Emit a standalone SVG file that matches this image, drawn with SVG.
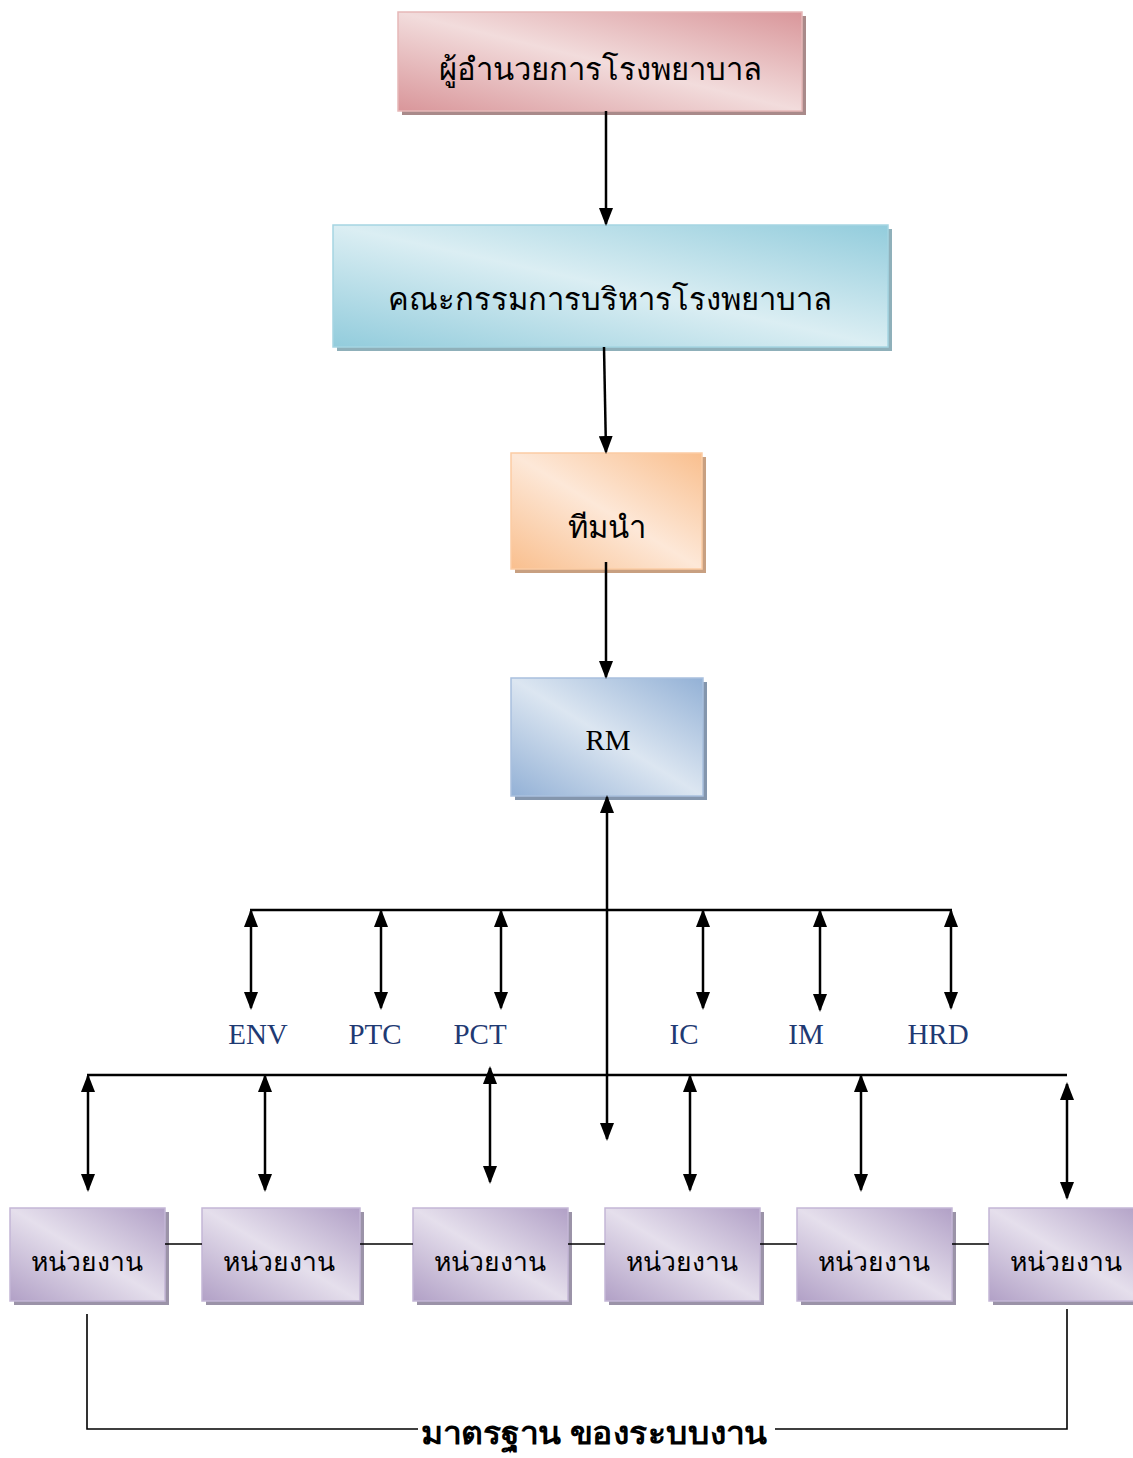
<svg xmlns="http://www.w3.org/2000/svg" width="1133" height="1458" viewBox="0 0 1133 1458">
  <style>
    .th { font-family: "Noto Sans", "DejaVu Sans", sans-serif; fill: #000; text-anchor: middle; }
    .lat { font-family: "Liberation Serif", serif; text-anchor: middle; }
    .abbr { font-family: "Liberation Serif", serif; font-size: 29px; fill: #1f3a73; text-anchor: middle; }
    .ln { stroke: #000; stroke-width: 2.5; fill: none; }
    .thin { stroke: #000; stroke-width: 1.6; fill: none; }
    .arr { stroke: #000; stroke-width: 2.5; fill: none; marker-end: url(#ah); }
    .dbl { stroke: #000; stroke-width: 2.5; fill: none; marker-start: url(#ah); marker-end: url(#ah); }
  </style>
  <defs>
    <marker id="ah" viewBox="0 0 18 14" refX="16" refY="7" markerWidth="18" markerHeight="14" markerUnits="userSpaceOnUse" orient="auto-start-reverse">
      <path d="M0,0 L18,7 L0,14 z" fill="#000"/>
    </marker>
    <linearGradient id="gPink" x1="1" y1="0" x2="0" y2="1">
      <stop offset="0" stop-color="#d9969a"/>
      <stop offset="0.5" stop-color="#f2dcdc"/>
      <stop offset="1" stop-color="#d9969a"/>
    </linearGradient>
    <linearGradient id="gCyan" x1="1" y1="0" x2="0" y2="1">
      <stop offset="0" stop-color="#92ccdc"/>
      <stop offset="0.5" stop-color="#dbeef3"/>
      <stop offset="1" stop-color="#92ccdc"/>
    </linearGradient>
    <linearGradient id="gOrange" x1="1" y1="0" x2="0" y2="1">
      <stop offset="0" stop-color="#f9bf8e"/>
      <stop offset="0.5" stop-color="#fde8d8"/>
      <stop offset="1" stop-color="#f9bf8e"/>
    </linearGradient>
    <linearGradient id="gBlue" x1="1" y1="0" x2="0" y2="1">
      <stop offset="0" stop-color="#93b1d6"/>
      <stop offset="0.5" stop-color="#dce6f1"/>
      <stop offset="1" stop-color="#93b1d6"/>
    </linearGradient>
    <linearGradient id="gPurple" x1="1" y1="0" x2="0" y2="1">
      <stop offset="0" stop-color="#b1a0c6"/>
      <stop offset="0.5" stop-color="#e5dfec"/>
      <stop offset="1" stop-color="#b1a0c6"/>
    </linearGradient>
  </defs>

  <!-- director -->
  <g id="director">
    <rect x="402" y="16" width="404" height="99" fill="#a98a8a"/>
    <rect x="398" y="12" width="404" height="99" fill="url(#gPink)" stroke="#e6b8b8" stroke-width="1.5"/>
    <text class="th" x="600" y="80" font-size="31">ผู้อำนวยการโรงพยาบาล</text>
  </g>

  <!-- board -->
  <g id="board">
    <rect x="337" y="229" width="555" height="122" fill="#8fb0ba"/>
    <rect x="333" y="225" width="555" height="122" fill="url(#gCyan)" stroke="#a5d5e2" stroke-width="1.5"/>
    <text class="th" x="610" y="310" font-size="31">คณะกรรมการบริหารโรงพยาบาล</text>
  </g>

  <!-- lead team -->
  <g id="leadteam">
    <rect x="515" y="457" width="191" height="116" fill="#c8a081"/>
    <rect x="511" y="453" width="191" height="116" fill="url(#gOrange)" stroke="#fbcca4" stroke-width="1.5"/>
    <text class="th" x="607" y="538" font-size="31">ทีมนำ</text>
  </g>

  <!-- RM -->
  <g id="rm">
    <rect x="515" y="682" width="192" height="118" fill="#8496ad"/>
    <rect x="511" y="678" width="192" height="118" fill="url(#gBlue)" stroke="#a9c0de" stroke-width="1.5"/>
    <text class="lat" x="608" y="750" font-size="29">RM</text>
  </g>

  <!-- committee labels -->
  <g id="env"><text class="abbr" x="258" y="1044">ENV</text></g>
  <g id="ptc"><text class="abbr" x="375" y="1044">PTC</text></g>
  <g id="pct"><text class="abbr" x="480" y="1044">PCT</text></g>
  <g id="ic"><text class="abbr" x="684" y="1044">IC</text></g>
  <g id="im"><text class="abbr" x="806" y="1044">IM</text></g>
  <g id="hrd"><text class="abbr" x="938" y="1044">HRD</text></g>

  <!-- units -->
  <g id="unit1">
    <rect x="14" y="1212" width="155" height="93" fill="#9b93a8"/>
    <rect x="10" y="1208" width="155" height="93" fill="url(#gPurple)" stroke="#c4b7d6" stroke-width="1.5"/>
    <text class="th" x="87" y="1271" font-size="26.5">หน่วยงาน</text>
  </g>
  <g id="unit2">
    <rect x="206" y="1212" width="158" height="93" fill="#9b93a8"/>
    <rect x="202" y="1208" width="158" height="93" fill="url(#gPurple)" stroke="#c4b7d6" stroke-width="1.5"/>
    <text class="th" x="279" y="1271" font-size="26.5">หน่วยงาน</text>
  </g>
  <g id="unit3">
    <rect x="417" y="1212" width="155" height="93" fill="#9b93a8"/>
    <rect x="413" y="1208" width="155" height="93" fill="url(#gPurple)" stroke="#c4b7d6" stroke-width="1.5"/>
    <text class="th" x="490" y="1271" font-size="26.5">หน่วยงาน</text>
  </g>
  <g id="unit4">
    <rect x="609" y="1212" width="155" height="93" fill="#9b93a8"/>
    <rect x="605" y="1208" width="155" height="93" fill="url(#gPurple)" stroke="#c4b7d6" stroke-width="1.5"/>
    <text class="th" x="682" y="1271" font-size="26.5">หน่วยงาน</text>
  </g>
  <g id="unit5">
    <rect x="801" y="1212" width="155" height="93" fill="#9b93a8"/>
    <rect x="797" y="1208" width="155" height="93" fill="url(#gPurple)" stroke="#c4b7d6" stroke-width="1.5"/>
    <text class="th" x="874" y="1271" font-size="26.5">หน่วยงาน</text>
  </g>
  <g id="unit6">
    <rect x="993" y="1212" width="155" height="93" fill="#9b93a8"/>
    <rect x="989" y="1208" width="155" height="93" fill="url(#gPurple)" stroke="#c4b7d6" stroke-width="1.5"/>
    <text class="th" x="1066" y="1271" font-size="26.5">หน่วยงาน</text>
  </g>

  <!-- standards caption -->
  <g id="standard">
    <text class="th" x="594" y="1444" font-size="31" font-weight="bold" textLength="346" lengthAdjust="spacingAndGlyphs">มาตรฐาน ของระบบงาน</text>
  </g>

  <g id="connectors">
    <!-- main chain -->
    <line class="arr" x1="606" y1="111" x2="606" y2="224"/>
    <line class="arr" x1="604" y1="347" x2="606" y2="452"/>
    <line class="arr" x1="606" y1="562" x2="606" y2="677"/>
    <line class="dbl" x1="607" y1="797" x2="607" y2="1139"/>

    <!-- committee bus -->
    <line class="ln" x1="250" y1="910" x2="952" y2="910"/>
    <line class="dbl" x1="251" y1="911" x2="251" y2="1008"/>
    <line class="dbl" x1="381" y1="911" x2="381" y2="1008"/>
    <line class="dbl" x1="501" y1="911" x2="501" y2="1008"/>
    <line class="dbl" x1="703" y1="911" x2="703" y2="1008"/>
    <line class="dbl" x1="820" y1="911" x2="820" y2="1010"/>
    <line class="dbl" x1="951" y1="911" x2="951" y2="1008"/>

    <!-- unit bus -->
    <line class="ln" x1="87" y1="1075" x2="1067" y2="1075"/>
    <line class="dbl" x1="88" y1="1076" x2="88" y2="1190"/>
    <line class="dbl" x1="265" y1="1076" x2="265" y2="1190"/>
    <line class="dbl" x1="490" y1="1068" x2="490" y2="1182"/>
    <line class="dbl" x1="690" y1="1076" x2="690" y2="1190"/>
    <line class="dbl" x1="861" y1="1076" x2="861" y2="1190"/>
    <line class="dbl" x1="1067" y1="1084" x2="1067" y2="1198"/>

    <!-- links between units -->
    <line class="thin" x1="165" y1="1244" x2="202" y2="1244"/>
    <line class="thin" x1="360" y1="1244" x2="413" y2="1244"/>
    <line class="thin" x1="568" y1="1244" x2="605" y2="1244"/>
    <line class="thin" x1="760" y1="1244" x2="797" y2="1244"/>
    <line class="thin" x1="952" y1="1244" x2="989" y2="1244"/>

    <!-- bracket to standards -->
    <polyline class="thin" points="87,1314 87,1429 418,1429"/>
    <polyline class="thin" points="775,1429 1067,1429 1067,1309"/>
  </g>
</svg>
